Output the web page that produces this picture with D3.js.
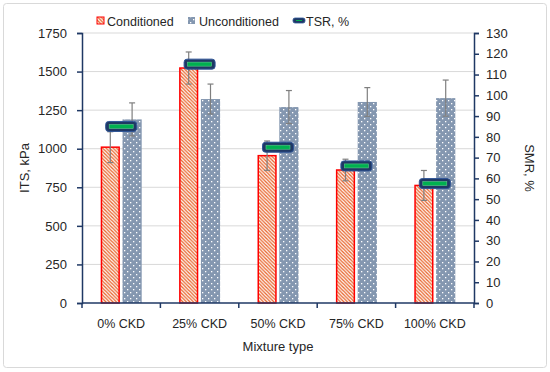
<!DOCTYPE html>
<html>
<head>
<meta charset="utf-8">
<script src="https://cdn.jsdelivr.net/npm/d3@7"></script>
<style>
  body { margin: 0; background: #fff; }
  svg text { font-family: "Liberation Sans", Arial, sans-serif; fill: #262626; }
</style>
</head>
<body>
<svg id="chart" width="550" height="372"></svg>
<script>
// values
const categories = ["0% CKD", "25% CKD", "50% CKD", "75% CKD", "100% CKD"];
const conditioned = [1010, 1523, 955, 862, 762];
const conditionedErr = [100, 104, 95, 70, 97];
const unconditioned = [1190, 1322, 1270, 1303, 1328];
const unconditionedErr = [107, 97, 107, 93, 117];
const tsr = [85, 115, 75, 66, 57.5];
const leftTicks = [0, 250, 500, 750, 1000, 1250, 1500, 1750];
const rightTicks = d3.range(0, 131, 10);

const margin = { left: 82, right: 76, top: 33, bottom: 69 };
const W = 550, H = 372;

const svg = d3.select("#chart");

// frame
svg.append("rect")
  .attr("x", 3.5).attr("y", 3.5)
  .attr("width", 543).attr("height", 364)
  .attr("rx", 3)
  .attr("fill", "#fff").attr("stroke", "#d9d9d9");

/**
 * PATTERNS
 */
const defs = svg.append("defs");

const hatch = defs.append("pattern")
  .attr("id", "hatch")
  .attr("patternUnits", "userSpaceOnUse")
  .attr("width", 3.5).attr("height", 3.5);
hatch.append("rect").attr("width", 3.5).attr("height", 3.5).attr("fill", "#fff");
hatch.append("path")
  .attr("d", "M0,0 L3.5,3.5 M-1,2.5 L1,4.5 M2.5,-1 L4.5,1")
  .attr("stroke", "#e8662e").attr("stroke-width", 1.3);

const dots = defs.append("pattern")
  .attr("id", "dots")
  .attr("patternUnits", "userSpaceOnUse")
  .attr("width", 6).attr("height", 6);
dots.append("rect").attr("width", 6).attr("height", 6).attr("fill", "#8497b0");
dots.append("rect").attr("x", 1).attr("y", 1).attr("width", 1.3).attr("height", 1.3).attr("fill", "#fff");
dots.append("rect").attr("x", 4).attr("y", 4).attr("width", 1.3).attr("height", 1.3).attr("fill", "#fff");

/**
 * SCALES
 */
const x = d3.scaleBand()
  .domain(categories)
  .range([margin.left, W - margin.right]);

const inner = d3.scaleBand()
  .domain(["c", "u"])
  .range([x.bandwidth() / 2 - 20.5, x.bandwidth() / 2 + 20.5])
  .paddingInner(0.12);

const y = d3.scaleLinear().domain([0, 1750]).range([H - margin.bottom, margin.top]);
const y2 = d3.scaleLinear().domain([0, 130]).range([H - margin.bottom, margin.top]);

// grid
svg.append("g")
  .selectAll("line")
  .data(leftTicks.slice(1))
  .join("line")
  .attr("x1", margin.left).attr("x2", W - margin.right)
  .attr("y1", d => y(d)).attr("y2", d => y(d))
  .attr("stroke", "#d9d9d9").attr("stroke-width", 1);

/**
 * BARS
 */
const bars = svg.append("g");

bars.selectAll(".cond")
  .data(categories)
  .join("rect")
  .attr("x", (d) => x(d) + inner("c") + 0.75)
  .attr("width", inner.bandwidth() - 1.5)
  .attr("y", (d, i) => y(conditioned[i]))
  .attr("height", (d, i) => y(0) - y(conditioned[i]))
  .attr("fill", "url(#hatch)")
  .attr("stroke", "#ff0000").attr("stroke-width", 1.5);

bars.selectAll(".uncond")
  .data(categories)
  .join("rect")
  .attr("x", (d) => x(d) + inner("u"))
  .attr("width", inner.bandwidth())
  .attr("y", (d, i) => y(unconditioned[i]))
  .attr("height", (d, i) => y(0) - y(unconditioned[i]))
  .attr("fill", "url(#dots)");

/**
 * ERROR BARS
 */
function errorBars(values, errs, key) {
  const g = svg.append("g").attr("stroke", "#7f7f7f").attr("stroke-width", 1.2);
  categories.forEach((c, i) => {
    const cx = x(c) + inner(key) + inner.bandwidth() / 2;
    const hi = y(values[i] + errs[i]), lo = y(values[i] - errs[i]);
    g.append("line").attr("x1", cx).attr("x2", cx).attr("y1", hi).attr("y2", lo);
    g.append("line").attr("x1", cx - 3).attr("x2", cx + 3).attr("y1", hi).attr("y2", hi);
    g.append("line").attr("x1", cx - 3).attr("x2", cx + 3).attr("y1", lo).attr("y2", lo);
  });
}
errorBars(conditioned, conditionedErr, "c");
errorBars(unconditioned, unconditionedErr, "u");

/**
 * TSR MARKERS
 */
const markers = svg.append("g");
categories.forEach((c, i) => {
  const cx = x(c) + x.bandwidth() / 2;
  const cy = y2(tsr[i]);
  markers.append("rect")
    .attr("x", cx - 15.5).attr("y", cy - 5)
    .attr("width", 31).attr("height", 10).attr("rx", 3)
    .attr("fill", "#1f3864").attr("stroke", "#2f5597").attr("stroke-width", 1);
  markers.append("rect")
    .attr("x", cx - 12).attr("y", cy - 2)
    .attr("width", 24).attr("height", 4)
    .attr("fill", "#00b050").attr("stroke", "#5ec98a").attr("stroke-width", 0.6);
});

/**
 * AXES
 */
const axisColor = "#1f3864";

const gx = svg.append("g")
  .attr("transform", `translate(0,${H - margin.bottom})`);
gx.append("line")
  .attr("x1", margin.left).attr("x2", W - margin.right)
  .attr("stroke", axisColor).attr("stroke-width", 1.5);
gx.selectAll(".tk")
  .data(d3.range(categories.length + 1))
  .join("line")
  .attr("x1", d => margin.left + d * x.step()).attr("x2", d => margin.left + d * x.step())
  .attr("y1", 0).attr("y2", 5)
  .attr("stroke", axisColor).attr("stroke-width", 1.5);
gx.selectAll("text")
  .data(categories)
  .join("text")
  .attr("x", d => x(d) + x.bandwidth() / 2)
  .attr("y", 25)
  .attr("text-anchor", "middle")
  .attr("font-size", 12.5)
  .text(d => d);

const gy = svg.append("g")
  .attr("transform", `translate(${margin.left},0)`)
  .call(d3.axisLeft(y).tickValues(leftTicks).tickFormat(d3.format("d")).tickSize(5).tickPadding(10));
gy.select(".domain").attr("stroke", axisColor).attr("stroke-width", 1.5);
gy.selectAll(".tick line").attr("stroke", axisColor).attr("stroke-width", 1.5);
gy.selectAll(".tick text").attr("font-size", 13).attr("font-family", null).attr("fill", "#262626");

const gy2 = svg.append("g")
  .attr("transform", `translate(${W - margin.right},0)`)
  .call(d3.axisRight(y2).tickValues(rightTicks).tickSize(5).tickPadding(7));
gy2.select(".domain").attr("stroke", axisColor).attr("stroke-width", 1.5);
gy2.selectAll(".tick line").attr("stroke", axisColor).attr("stroke-width", 1.5);
gy2.selectAll(".tick text").attr("font-size", 13).attr("font-family", null).attr("fill", "#262626");

// axis titles
svg.append("text")
  .attr("transform", `translate(29,${(margin.top + H - margin.bottom) / 2}) rotate(-90)`)
  .attr("text-anchor", "middle").attr("font-size", 13)
  .text("ITS, kPa");
svg.append("text")
  .attr("transform", `translate(525,${(margin.top + H - margin.bottom) / 2}) rotate(90)`)
  .attr("text-anchor", "middle").attr("font-size", 13)
  .text("SMR, %");
svg.append("text")
  .attr("x", 278).attr("y", 351)
  .attr("text-anchor", "middle").attr("font-size", 13)
  .text("Mixture type");

/**
 * LEGEND
 */
const legend = svg.append("g").attr("font-size", 12.5);
legend.append("rect").attr("x", 97).attr("y", 17).attr("width", 7).attr("height", 7)
  .attr("fill", "url(#hatch)").attr("stroke", "#ff0000").attr("stroke-width", 1);
legend.append("text").attr("x", 107).attr("y", 25.5).text("Conditioned");
legend.append("rect").attr("x", 188).attr("y", 17).attr("width", 7).attr("height", 7)
  .attr("fill", "url(#dots)");
legend.append("text").attr("x", 199).attr("y", 25.5).text("Unconditioned");
legend.append("rect").attr("x", 293).attr("y", 18).attr("width", 12).attr("height", 5).attr("rx", 2)
  .attr("fill", "#1f3864").attr("stroke", "#2f5597").attr("stroke-width", 0.8);
legend.append("rect").attr("x", 296).attr("y", 20).attr("width", 6).attr("height", 1)
  .attr("fill", "#00b050");
legend.append("text").attr("x", 306).attr("y", 25.5).text("TSR, %");
</script>
</body>
</html>
